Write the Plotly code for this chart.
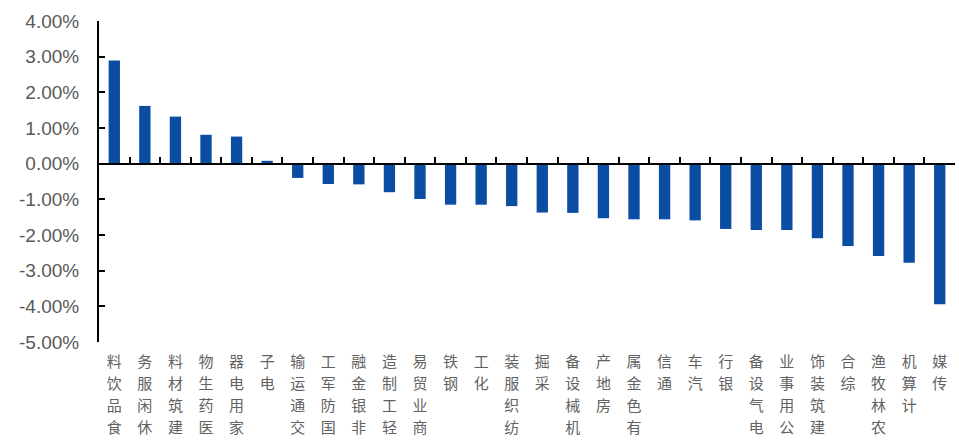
import plotly.graph_objects as go

categories = ["食品饮料", "休闲服务", "建筑材料", "医药生物", "家用电器", "电子", "交通运输",
              "国防军工", "非银金融", "轻工制造", "商业贸易", "钢铁", "化工", "纺织服装",
              "采掘", "机械设备", "房地产", "有色金属", "通信", "汽车", "银行", "电气设备",
              "公用事业", "建筑装饰", "综合", "农林牧渔", "计算机", "传媒"]
values = [2.89, 1.62, 1.32, 0.81, 0.76, 0.08, -0.40, -0.57, -0.58, -0.80, -0.99, -1.15,
          -1.15, -1.19, -1.37, -1.38, -1.53, -1.56, -1.56, -1.59, -1.83, -1.86, -1.86,
          -2.09, -2.31, -2.59, -2.78, -3.94]
y_ticks = [4, 3, 2, 1, 0, -1, -2, -3, -4, -5]
y_tick_text = ["4.00%", "3.00%", "2.00%", "1.00%", "0.00%", "-1.00%", "-2.00%",
               "-3.00%", "-4.00%", "-5.00%"]

BAR = "#0B4DA2"
GREY = "#595959"
LABEL_GREY = "#626262"
y_min, y_max = -5, 4
n = len(categories)
x_range = [-0.5, n - 0.5]

# Excel-style 270° CJK text: upright characters reading bottom to top,
# so the top row shows the last character of each name.
n_rows = max(len(c) for c in categories)
row_texts = [[c[len(c) - 1 - k] if k < len(c) else "" for c in categories]
             for k in range(n_rows)]

fig = go.Figure()
fig.add_trace(go.Bar(x=categories, y=values, marker_color=BAR, width=0.37,
                     marker_line_width=0, hoverinfo="x+y"))

layout = dict(
    width=959, height=444,
    margin=dict(l=99, r=4, t=21, b=102),
    plot_bgcolor="white", paper_bgcolor="white",
    showlegend=False,
    yaxis=dict(range=[y_min, y_max], tickvals=y_ticks, ticktext=y_tick_text,
               showline=True, linecolor="black", linewidth=2,
               ticks="inside", ticklen=6, tickwidth=2, tickcolor="black",
               showgrid=False, zeroline=False, ticklabelstandoff=14,
               tickfont=dict(family="Liberation Sans", size=19, color=GREY)),
)

# zero-line axis with boundary ticks (driven by an invisible copy of the bars)
fig.add_trace(go.Bar(x=categories, y=values, xaxis="x2", marker_color="rgba(0,0,0,0)",
                     marker_line_width=0, hoverinfo="skip"))
layout["xaxis2"] = dict(type="category", overlaying="x", anchor="free",
                        position=(0 - y_min) / (y_max - y_min), range=x_range,
                        showline=True, linecolor="black", linewidth=2,
                        ticks="inside", tickson="boundaries", ticklen=6, tickwidth=2,
                        tickcolor="black", showticklabels=False, showgrid=False,
                        zeroline=False)

# one label row per character position
row_gap = 22
for k in range(n_rows):
    ax_name = "xaxis" if k == 0 else f"xaxis{k + 2}"
    ax_ref = "x" if k == 0 else f"x{k + 2}"
    ax = dict(type="category", range=x_range, showline=False, ticks="",
              showgrid=False, zeroline=False, tickangle=0,
              tickvals=categories, ticktext=row_texts[k],
              ticklabelstandoff=9 + k * row_gap,
              tickfont=dict(family="Noto Sans CJK SC", size=15, color=LABEL_GREY))
    if k > 0:
        ax.update(overlaying="x", anchor="y")
        fig.add_trace(go.Bar(x=categories, y=values, xaxis=ax_ref,
                             marker_color="rgba(0,0,0,0)", marker_line_width=0,
                             hoverinfo="skip"))
    layout[ax_name] = ax

fig.update_layout(**layout)
fig.write_html("out.html")
